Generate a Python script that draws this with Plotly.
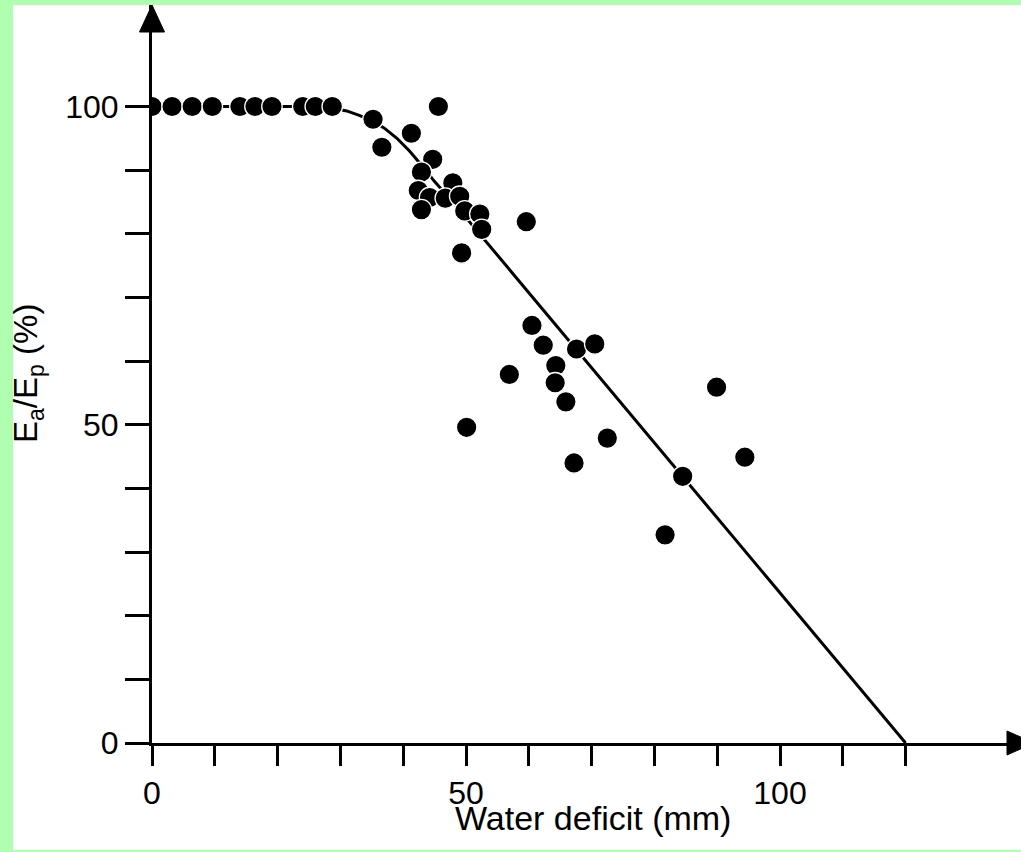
import plotly.graph_objects as go

# ---- data ----
deficit_mm = [0, 3.2, 6.4, 9.6, 14.0, 16.4, 19.1, 24.0, 26.0, 28.7,
              35.2, 45.6, 41.3, 36.6, 44.7, 42.9, 42.4, 44.2, 42.9, 47.9,
              46.7, 49.0, 49.8, 52.2, 52.5, 49.3, 59.6, 60.5, 62.3, 67.6,
              70.5, 64.3, 64.2, 65.9, 56.9, 50.1, 72.5, 67.2, 84.5, 81.7,
              89.9, 94.4]
ea_ep_pct = [100, 100, 100, 100, 100, 100, 100, 100, 100, 100,
             98.0, 100, 95.8, 93.6, 91.7, 89.7, 86.8, 85.7, 83.8, 88.0,
             85.6, 85.9, 83.6, 83.1, 80.7, 77.0, 81.9, 65.6, 62.5, 61.9,
             62.7, 59.3, 56.6, 53.6, 57.9, 49.6, 47.9, 44.0, 41.9, 32.7,
             55.9, 44.9]

# fitted curve
curve_x = [0, 26, 28.5, 31, 33, 35, 37, 39, 41, 43, 45, 48, 120]
curve_y = [100, 100, 99.8, 99.3, 98.6, 97.8, 96.6, 95.0, 93.0, 90.7, 88.2, 84.9, 0]

x_tickvals = [0, 10, 20, 30, 40, 50, 60, 70, 80, 90, 100, 110, 120]
x_ticktext = ["0", "", "", "", "", "50", "", "", "", "", "100", "", ""]
y_tickvals = [0, 10, 20, 30, 40, 50, 60, 70, 80, 90, 100]
y_ticktext = ["0", "", "", "", "", "50", "", "", "", "", "100"]

x_title = "Water deficit (mm)"
y_title = "E<sub>a</sub>/E<sub>p</sub> (%)"

# ---- layout geometry ----
W, H = 1021, 852
ML, MR, MT, MB = 152, 0, 5, 109
PW, PH = W - ML - MR, H - MT - MB
X_MAX = PW / 6.28
Y_MAX = PH / 6.365

FONT = "Arial, Liberation Sans, Helvetica, sans-serif"

fig = go.Figure()
fig.add_trace(go.Scatter(x=curve_x, y=curve_y, mode="lines",
                         line=dict(color="black", width=3),
                         hoverinfo="skip", showlegend=False))
fig.add_trace(go.Scatter(x=deficit_mm, y=ea_ep_pct, mode="markers",
                         marker=dict(color="black", size=20.5,
                                     line=dict(color="white", width=1.3)),
                         showlegend=False))

def px_x(p):
    return (p - ML) / PW

def px_y(p):
    return (H - MB - p) / PH

shapes = [
    # white page area over the green background
    dict(type="rect", xref="paper", yref="paper",
         x0=px_x(13), x1=px_x(1030), y0=px_y(850), y1=px_y(5),
         fillcolor="white", line=dict(width=0), layer="below"),
    # y-axis arrowhead
    dict(type="path", xref="paper", yref="paper",
         path=f"M {px_x(139.5)} {px_y(32)} L {px_x(152)} {px_y(5)} L {px_x(164.5)} {px_y(32)} Z",
         fillcolor="black", line=dict(color="black", width=1)),
    # x-axis arrowhead
    dict(type="path", xref="paper", yref="paper",
         path=f"M {px_x(1007)} {px_y(731)} L {px_x(1034)} {px_y(743)} L {px_x(1007)} {px_y(755)} Z",
         fillcolor="black", line=dict(color="black", width=1)),
]

fig.update_layout(
    width=W, height=H,
    margin=dict(l=ML, r=MR, t=MT, b=MB, pad=0),
    paper_bgcolor="#b0ffb0",
    plot_bgcolor="white",
    shapes=shapes,
    font=dict(family=FONT, color="black"),
    xaxis=dict(range=[0, X_MAX], showgrid=False, zeroline=False,
               showline=True, linecolor="black", linewidth=3,
               ticks="outside", ticklen=20, tickwidth=3, tickcolor="black",
               tickvals=x_tickvals, ticktext=x_ticktext,
               tickfont=dict(size=32, family=FONT, color="black")),
    yaxis=dict(range=[0, Y_MAX], showgrid=False, zeroline=False,
               showline=True, linecolor="black", linewidth=3,
               ticks="outside", ticklen=24, tickwidth=3, tickcolor="black",
               tickvals=y_tickvals, ticktext=y_ticktext,
               tickfont=dict(size=32, family=FONT, color="black")),
    annotations=[
        dict(text=x_title, xref="paper", yref="paper",
             x=px_x(593), y=px_y(818), xanchor="center", yanchor="middle",
             showarrow=False, font=dict(size=34, family=FONT, color="black")),
        dict(text=y_title, xref="paper", yref="paper",
             x=px_x(28), y=px_y(374), xanchor="center", yanchor="middle",
             textangle=-90, showarrow=False,
             font=dict(size=33, family=FONT, color="black")),
    ],
)

fig.write_html(
    "out.html",
    config={"displayModeBar": False},
    post_script="document.body.style.margin='0';document.body.style.overflow='hidden';",
)
